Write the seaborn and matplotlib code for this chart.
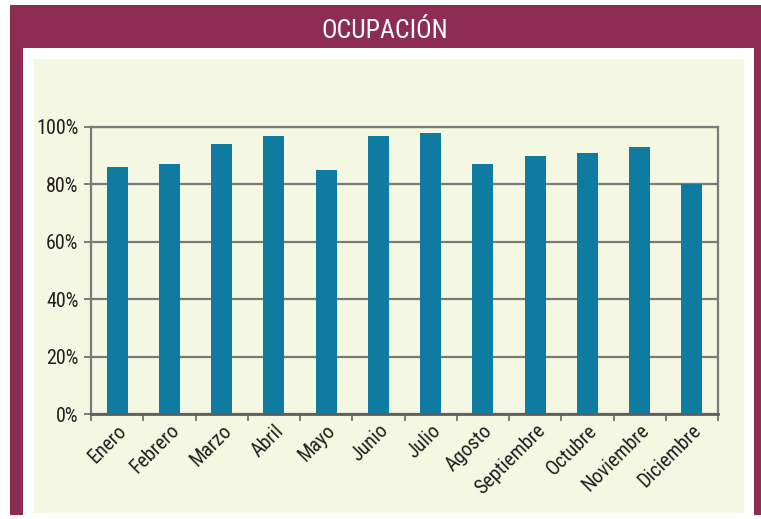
import matplotlib
matplotlib.use("Agg")
import matplotlib.pyplot as plt
from matplotlib.patches import Rectangle
from matplotlib.ticker import FixedLocator, FuncFormatter
import seaborn as sns
import pandas as pd

# Monthly occupancy rate (%)
meses = ["Enero", "Febrero", "Marzo", "Abril", "Mayo", "Junio",
         "Julio", "Agosto", "Septiembre", "Octubre", "Noviembre", "Diciembre"]
ocupacion = [86, 87, 94, 97, 85, 97, 98, 87, 90, 91, 93, 80]
y_ticks = [0, 20, 40, 60, 80, 100]
titulo = "OCUPACIÓN"

MAROON = "#8E2D52"
PANEL = "#F4F7E1"
BAR = "#0F7BA0"
GRID = "#7A7A78"
TEXT = "#231F20"

sns.set_theme(style="white")
plt.rcParams["font.family"] = ["Roboto Condensed", "DejaVu Sans"]

W, H = 761, 519
fig = plt.figure(figsize=(W / 100, H / 100), dpi=100)
fig.patch.set_facecolor("white")


def px_rect(x0, y0, x1, y1, color, z):
    """Rectangle given in pixel coordinates measured from the top-left corner."""
    fig.patches.append(Rectangle((x0 / W, 1 - y1 / H), (x1 - x0) / W, (y1 - y0) / H,
                                 transform=fig.transFigure, facecolor=color,
                                 edgecolor="none", zorder=z))


# Frame: maroon border with title band, white inner card, light panel
px_rect(10, 5, 761, 515, MAROON, 0)
px_rect(23, 48, 754, 519, "white", 1)
px_rect(34, 59, 744, 513, PANEL, 2)

fig.text(385 / W, 1 - 31 / H, titulo, color="white", fontsize=18.5,
         ha="center", va="center", zorder=5)

ax = fig.add_axes([91 / W, 1 - 414 / H, (718 - 91) / W, (414 - 127) / H])
ax.set_zorder(10)
ax.set_facecolor("none")

df = pd.DataFrame({"mes": meses, "ocupacion": ocupacion})
sns.barplot(data=df, x="mes", y="ocupacion", color=BAR, width=0.4,
            saturation=1, linewidth=0, edgecolor="none", ax=ax, zorder=3)

ax.set_xlim(-0.5, len(meses) - 0.5)
ax.set_ylim(0, 100)
ax.set_xlabel("")
ax.set_ylabel("")

# Horizontal gridlines
ax.set_yticks(y_ticks)
ax.yaxis.set_major_formatter(FuncFormatter(lambda v, _: f"{v:.0f}%"))
ax.yaxis.grid(True, color=GRID, linewidth=1.6, zorder=1)
ax.xaxis.grid(False)
ax.set_axisbelow(True)

# Category labels at bar centres, tick marks between categories
ax.set_xticks(range(len(meses)))
ax.set_xticklabels(meses, rotation=45, ha="right", rotation_mode="anchor")
ax.xaxis.set_minor_locator(FixedLocator([i - 0.5 for i in range(len(meses) + 1)]))
ax.tick_params(axis="x", which="major", length=0, pad=5, labelsize=14.5, labelcolor=TEXT)
ax.tick_params(axis="x", which="minor", bottom=True, length=5, width=1.4, color=GRID)
ax.tick_params(axis="y", which="major", left=True, length=5, width=1.4, color=GRID,
               pad=4, labelsize=14.5, labelcolor=TEXT)

for side in ["left", "right", "top", "bottom"]:
    ax.spines[side].set_visible(True)
    ax.spines[side].set_color(GRID)
    ax.spines[side].set_linewidth(1.6)
ax.spines["bottom"].set_color("#5E5E5C")
ax.spines["bottom"].set_linewidth(2)

fig.savefig("out.png", dpi=100, facecolor=fig.get_facecolor())
